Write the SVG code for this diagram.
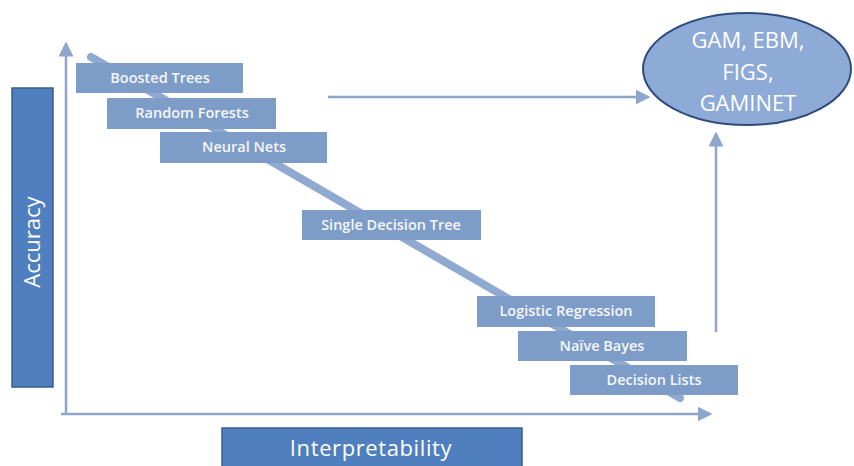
<svg xmlns="http://www.w3.org/2000/svg" width="854" height="466" viewBox="0 0 854 466">
<style>
.box{fill:#7d9cc8;}
.lbl{font-family:"Open Sans","Noto Sans",sans-serif;font-size:14.5px;font-weight:600;fill:#f4f7fb;text-anchor:middle;}
.axlbl{font-family:"Open Sans","Noto Sans",sans-serif;font-size:22px;fill:#ffffff;text-anchor:middle;}
.ell{font-family:"Open Sans","Noto Sans",sans-serif;font-size:22px;fill:#ffffff;text-anchor:middle;}
.conn{stroke:#8ea6cc;stroke-width:2.5;fill:none;}
</style>
<defs>
<marker id="ah" markerWidth="6" markerHeight="6" refX="5" refY="3" orient="auto" markerUnits="strokeWidth"><path d="M0,0 L6,3 L0,6 z" fill="#8ea6cc"/></marker>
</defs>
<rect width="854" height="466" fill="#ffffff"/>
<g id="connectors">
<line class="conn" x1="66" y1="415" x2="66" y2="44" marker-end="url(#ah)"/>
<line class="conn" x1="61" y1="414" x2="710" y2="414" marker-end="url(#ah)"/>
<line class="conn" x1="328" y1="97" x2="648" y2="97" marker-end="url(#ah)"/>
<line class="conn" x1="716" y1="332" x2="716" y2="134" marker-end="url(#ah)"/>
<line x1="91" y1="57" x2="680" y2="398" stroke="#8fa9d0" stroke-width="8" stroke-linecap="round"/>
</g>
<g id="accuracy">
<rect x="12" y="88" width="41" height="299" fill="#4f7fbf" stroke="#375d8e" stroke-width="1.5"/>
<text class="axlbl" transform="translate(40,242) rotate(-90)">Accuracy</text>
</g>
<g id="interpretability">
<rect x="222" y="428" width="300" height="40" fill="#4f7fbf" stroke="#375d8e" stroke-width="1.5"/>
<text class="axlbl" x="371" y="456" style="letter-spacing:0.6px">Interpretability</text>
</g>
<g id="boosted-trees"><rect class="box" x="76" y="63" width="167" height="30"/><text class="lbl" x="160" y="83">Boosted Trees</text></g>
<g id="random-forests"><rect class="box" x="107" y="98" width="169" height="31"/><text class="lbl" x="192" y="118">Random Forests</text></g>
<g id="neural-nets"><rect class="box" x="160" y="132" width="167" height="31"/><text class="lbl" x="244" y="152">Neural Nets</text></g>
<g id="single-decision-tree"><rect class="box" x="302" y="210" width="179" height="30"/><text class="lbl" x="391" y="230">Single Decision Tree</text></g>
<g id="logistic-regression"><rect class="box" x="477" y="296" width="178" height="31"/><text class="lbl" x="566" y="316">Logistic Regression</text></g>
<g id="naive-bayes"><rect class="box" x="518" y="331" width="169" height="30"/><text class="lbl" x="602" y="351">Naïve Bayes</text></g>
<g id="decision-lists"><rect class="box" x="570" y="365" width="168" height="30"/><text class="lbl" x="654" y="385">Decision Lists</text></g>
<g id="gam-ebm">
<ellipse cx="747" cy="69" rx="104" ry="56" fill="#8eaad6" stroke="#2f4c7c" stroke-width="2"/>
<text class="ell" x="748" y="48">GAM, EBM,</text>
<text class="ell" x="748" y="80">FIGS,</text>
<text class="ell" x="748" y="111">GAMINET</text>
</g>
</svg>
